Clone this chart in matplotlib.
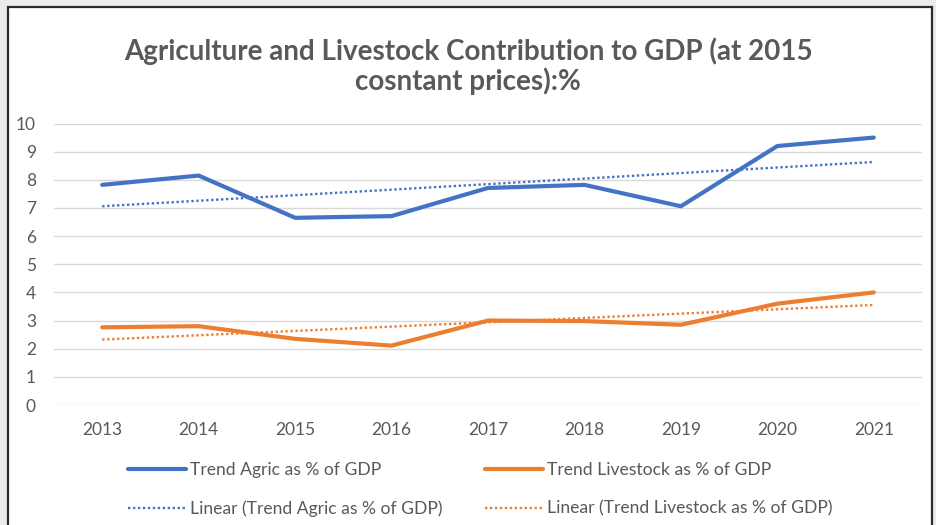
import numpy as np
import matplotlib
matplotlib.use("Agg")
import matplotlib.pyplot as plt
from matplotlib.patches import Rectangle

# Data
years = ["2013", "2014", "2015", "2016", "2017", "2018", "2019", "2020", "2021"]
agric_pct = [7.82, 8.15, 6.65, 6.71, 7.71, 7.82, 7.06, 9.20, 9.50]
livestock_pct = [2.76, 2.80, 2.35, 2.11, 3.00, 2.98, 2.85, 3.60, 4.00]
y_ticks = [0, 1, 2, 3, 4, 5, 6, 7, 8, 9, 10]

BLUE = "#4472C4"
ORANGE = "#ED7D31"
TEXT = "#595959"
GRID = "#D9D9D9"
FONT = "Lato"

W, H = 936, 525
fig = plt.figure(figsize=(W / 100, H / 100), dpi=100, facecolor="#ECECEA")

# chart frame
frame = Rectangle((8 / W, -0.05), (932 - 8) / W, (H - 7) / H + 0.05,
                  transform=fig.transFigure, facecolor="white",
                  edgecolor="#2B2B2B", linewidth=1.6, zorder=-10)
fig.patches.append(frame)

left, right = 54 / W, 922 / W
bottom, top = 1 - 405 / H, 1 - 123.5 / H
ax = fig.add_axes([left, bottom, right - left, top - bottom])
ax.set_facecolor("none")
ax.set_zorder(2)

x = np.arange(len(years))

# linear trendlines fitted to each series
x_fit = x + 1
agric_fit = np.polyval(np.polyfit(x_fit, agric_pct, 1), x_fit)
live_fit = np.polyval(np.polyfit(x_fit, livestock_pct, 1), x_fit)

l1, = ax.plot(x, agric_pct, color=BLUE, lw=3.0, solid_capstyle="round",
              solid_joinstyle="round", label="Trend Agric as % of GDP", zorder=3)
l2, = ax.plot(x, livestock_pct, color=ORANGE, lw=3.0, solid_capstyle="round",
              solid_joinstyle="round", label="Trend Livestock as % of GDP", zorder=3)
l3, = ax.plot(x, agric_fit, color=BLUE, lw=1.7, linestyle=(0, (1, 1.1)),
              label="Linear (Trend Agric as % of GDP)", zorder=2)
l4, = ax.plot(x, live_fit, color=ORANGE, lw=1.7, linestyle=(0, (1, 1.1)),
              label="Linear (Trend Livestock as % of GDP)", zorder=2)

ax.set_xlim(-0.5, len(years) - 0.5)
ax.set_ylim(0, 10)
ax.set_xticks(x)
ax.set_xticklabels(years)
ax.set_yticks(y_ticks)
ax.tick_params(axis="both", length=0, labelsize=12.5, labelcolor=TEXT)
ax.tick_params(axis="y", pad=13)
ax.tick_params(axis="x", pad=12)
for lab in ax.get_xticklabels() + ax.get_yticklabels():
    lab.set_fontfamily(FONT)
ax.grid(axis="y", color=GRID, lw=1.0)
ax.set_axisbelow(True)
for s in ax.spines.values():
    s.set_visible(False)

fig.text(0.5, 1 - 51 / H, "Agriculture and Livestock Contribution to GDP (at 2015",
         ha="center", va="center", fontsize=20, fontweight="bold",
         color=TEXT, family=FONT)
fig.text(0.5, 1 - 81 / H, "cosntant prices):%",
         ha="center", va="center", fontsize=20, fontweight="bold",
         color=TEXT, family=FONT)

leg = fig.legend(handles=[l1, l3, l2, l4], ncol=2, loc="upper left",
                 bbox_to_anchor=(112 / W, 1 - 446 / H), frameon=False,
                 prop={"family": FONT, "size": 12.6}, labelcolor=TEXT,
                 handlelength=3.3, handletextpad=0.25, columnspacing=2.45,
                 labelspacing=1.3)

fig.savefig("out.png", dpi=100, facecolor=fig.get_facecolor())
